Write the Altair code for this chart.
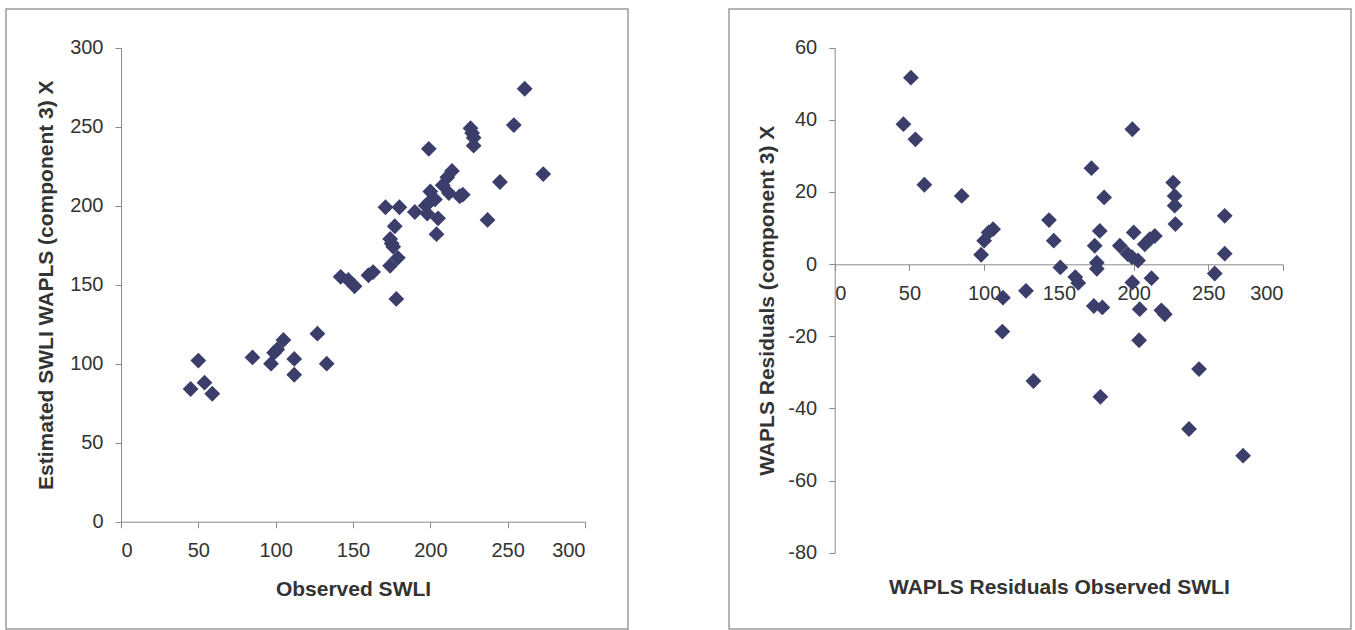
import altair as alt
import pandas as pd

# Left panel: observed vs estimated SWLI
observed = [45, 50, 54, 59, 85, 97, 99, 101, 105, 112, 112, 127, 133, 142, 147, 151,
            160, 163, 171, 174, 177, 175, 176, 180, 174, 179, 178, 199, 190, 200, 197,
            199, 203, 208, 211, 214, 198, 205, 212, 219, 221, 204, 226, 227, 228, 228,
            237, 245, 254, 261, 273]
estimated = [84, 102, 88, 81, 104, 100, 107, 109, 115, 103, 93, 119, 100, 155, 153, 149,
             156, 158, 199, 179, 187, 176, 174, 199, 162, 167, 141, 236, 196, 209, 200,
             202, 204, 213, 218, 222, 195, 192, 208, 206, 207, 182, 249, 246, 243, 238,
             191, 215, 251, 274, 220]

# Right panel: residuals vs observed SWLI
res_obs = [51, 46, 54, 60, 85, 98, 100, 103, 106, 112.6, 112.2, 128, 133, 143.4, 146.6,
           151, 161, 163, 171.8, 174, 177.4, 175.4, 175.4, 180.3, 173.4, 179.1, 177.8,
           199.2, 190.8, 200.1, 196, 199, 203, 207.5, 210.8, 214.2, 199.2, 204.1, 212,
           218.6, 220.9, 203.7, 226.5, 227.5, 227.5, 228, 237.1, 243.8, 254.3, 261, 261,
           273.3]
residual = [51.7, 38.8, 34.6, 22, 18.9, 2.6, 6.5, 8.8, 9.7, -9.3, -18.7, -7.4, -32.4, 12.2,
            6.5, -0.9, -3.6, -5.2, 26.6, 5.1, 9.2, 0.4, -1.3, 18.5, -11.6, -12, -36.8,
            37.4, 5.1, 8.8, 2.8, 1.9, 1.0, 5.5, 6.9, 7.8, -5.1, -12.5, -3.9, -12.8, -13.9,
            -21.1, 22.6, 18.9, 16.2, 11.1, -45.7, -29.1, -2.6, 13.4, 2.9, -53.1]

x_ticks = [0, 50, 100, 150, 200, 250, 300]
y_ticks_left = [0, 50, 100, 150, 200, 250, 300]
y_ticks_right = [60, 40, 20, 0, -20, -40, -60, -80]

left_df = pd.DataFrame({"obs": observed, "est": estimated})
right_df = pd.DataFrame({"obs": res_obs, "res": residual})

W, H = 622, 620
MARK = "#3b3d6b"
FONT = "Liberation Sans"

axis_common = dict(
    grid=False, domainColor="#8a8a8a", tickColor="#8a8a8a", tickSize=6,
    labelColor="#333333", labelFont=FONT, labelFontSize=20,
    labelExpr="'' + datum.value",
    titleColor="#333333", titleFont=FONT, titleFontSize=21, titleFontWeight="bold",
    titleAlign="center", titleBaseline="middle",
)

# Left panel geometry (pixels within the framed panel)
lx0, lx1 = 115, 579
ly0, ly1 = 512.7, 38.7
left = alt.Chart(left_df).mark_point(
    shape="diamond", filled=True, size=250, color=MARK, opacity=1
).encode(
    x=alt.X("obs:Q", scale=alt.Scale(domain=[0, 300], range=[lx0, lx1], nice=False, zero=False),
            axis=alt.Axis(values=x_ticks, offset=-(H - ly0), title="Observed SWLI",
                          labelPadding=13,
                          titleX=(lx0 + lx1) / 2, titleY=68, **axis_common)),
    y=alt.Y("est:Q", scale=alt.Scale(domain=[0, 300], range=[ly0, ly1], nice=False, zero=False),
            axis=alt.Axis(values=y_ticks_left, offset=-lx0,
                          title="Estimated SWLI WAPLS (component 3) X", labelPadding=12,
                          titleX=-75, titleY=(ly0 + ly1) / 2, titleAngle=270, **axis_common)),
).properties(width=W, height=H)

# Right panel geometry
rx0, rx1 = 105.7, 554
ry0, ry1 = 543.7, 38.7
zero_y = 255.3
right = alt.Chart(right_df).mark_point(
    shape="diamond", filled=True, size=250, color=MARK, opacity=1
).encode(
    x=alt.X("obs:Q", scale=alt.Scale(domain=[0, 300], range=[rx0, rx1], nice=False, zero=False),
            axis=alt.Axis(values=x_ticks, offset=-(H - zero_y),
                          title="WAPLS Residuals Observed SWLI", labelPadding=13,
                          titleX=(rx0 + rx1) / 2, titleY=323, **axis_common)),
    y=alt.Y("res:Q", scale=alt.Scale(domain=[-80, 60], range=[ry0, ry1], nice=False, zero=False),
            axis=alt.Axis(values=y_ticks_right, offset=-rx0,
                          title="WAPLS Residuals (component 3) X", labelPadding=12,
                          titleX=-67, titleY=(ry0 + ry1) / 2, titleAngle=270, **axis_common)),
).properties(width=W, height=H)

chart = alt.hconcat(left, right, spacing=99).properties(
    padding={"left": 5, "top": 8, "right": 0, "bottom": 0},
    background="white",
).configure_view(stroke="#9a9a9a", strokeWidth=1.5)

chart.save("out.html", embed_options={"renderer": "svg", "actions": False})
